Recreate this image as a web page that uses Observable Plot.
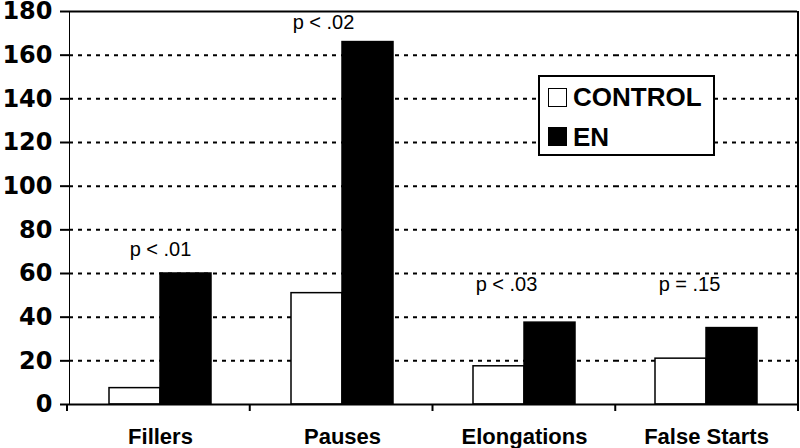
<!DOCTYPE html>
<html><head><meta charset="utf-8">
<script src="https://cdn.jsdelivr.net/npm/d3@7"></script>
<script src="https://cdn.jsdelivr.net/npm/@observablehq/plot@0.6"></script>
<style>
body{margin:0;background:#fff;}
#wrap{position:relative;width:800px;height:448px;overflow:hidden;}
[aria-label^="y-axis"] text{font:bold 24px "DejaVu Sans";}
[aria-label^="fx-axis"] text{font:bold 22px "Liberation Sans", Arial, sans-serif;}
[aria-label^="y-axis"] line,[aria-label^="y-axis"] path{stroke:#000;stroke-width:2;}
.legend{position:absolute;left:538px;top:75px;width:177px;height:81px;box-sizing:border-box;border:2px solid #000;background:#fff;font:bold 26px "Liberation Sans", Arial, sans-serif;color:#000;}
.legend .sw{position:absolute;left:8px;width:19px;height:19px;box-sizing:border-box;border:1.5px solid #000;}
.legend .lb{position:absolute;left:33px;line-height:26px;white-space:nowrap;}
</style>
</head><body>
<div id="wrap"></div>
<script>
const categories = ["Fillers", "Pauses", "Elongations", "False Starts"];
const series = ["CONTROL", "EN"];
const controlValues = [7.5, 51, 17.5, 21];
const enValues = [60, 166, 37.5, 35];
const pLabels = ["p < .01", "p < .02", "p < .03", "p = .15"];
const pLabelValues = [71, 175, 55, 55];
const yTicks = [0, 20, 40, 60, 80, 100, 120, 140, 160, 180];

const rows = categories.flatMap((c, i) => [
  {category: c, group: series[0], value: controlValues[i]},
  {category: c, group: series[1], value: enValues[i]}
]);
const labelRows = categories.map((c, i) => ({category: c, label: pLabels[i], value: pLabelValues[i]}));
const labelDx = [0, -19, -18, -17];

const plot = Plot.plot({
  width: 800, height: 448,
  marginLeft: 67, marginRight: 2, marginTop: 11, marginBottom: 44,
  style: {background: "white", color: "black", fontFamily: "'Liberation Sans', Arial, sans-serif", overflow: "visible"},
  fx: {domain: categories, padding: 0, axis: "bottom", tickSize: 0, tickPadding: 24, label: null},
  x: {domain: series, paddingInner: 0, paddingOuter: 0.76, axis: null},
  y: {domain: [0, 180], ticks: yTicks, tickSize: 9, tickPadding: 8, line: true, label: null},
  color: {domain: series, range: ["white", "black"]},
  marks: [
    Plot.ruleY(yTicks.filter(t => t > 0 && t < 180), {stroke: "black", strokeWidth: 2, strokeDasharray: "4,5"}),
    Plot.ruleY([180], {stroke: "black", strokeWidth: 2}),
    Plot.barY(rows, {fx: "category", x: "group", y: "value", fill: "group", stroke: "black", strokeWidth: 1.5}),
    Plot.ruleY([0], {stroke: "black", strokeWidth: 2}),
    ...labelRows.map((r, i) => Plot.text([r], {fx: "category", y: "value", text: "label", dx: labelDx[i], fontSize: 20, fill: "black", ariaLabel: "p-label"}))
  ]
});

const svg = d3.select(plot);
svg.selectAll('[aria-label="p-label"] text').each(function() {
  const t = d3.select(this);
  const s = t.text();
  t.text(null);
  t.append("tspan").attr("font-style", "italic").style("font-style", "italic").text(s[0]);
  t.append("tspan").text(s.slice(1));
});

// frame pieces at the facet band edges
const fxs = plot.scale("fx");
const ys = plot.scale("y");
const band = d3.scaleBand().domain(fxs.domain).range(fxs.range).paddingInner(0).paddingOuter(0);
const y0 = ys.range[0], y1 = ys.range[1];
const r1 = fxs.range[1];
const g = svg.append("g").attr("stroke", "black").attr("stroke-width", 2);
g.append("line").attr("x1", r1).attr("x2", r1).attr("y1", y1).attr("y2", y0 + 3);
fxs.domain.forEach(c => {
  const x = band(c);
  g.append("line").attr("x1", x).attr("x2", x).attr("y1", y0).attr("y2", y0 + 7);
});
g.append("line").attr("x1", r1).attr("x2", r1).attr("y1", y0).attr("y2", y0 + 7);

const wrap = document.getElementById("wrap");
wrap.appendChild(plot);

const legend = document.createElement("div");
legend.className = "legend";
legend.innerHTML = `
  <div class="sw" style="top:11px;background:#fff"></div>
  <div class="lb" style="top:7px">${series[0]}</div>
  <div class="sw" style="top:50px;background:#000"></div>
  <div class="lb" style="top:47px">${series[1]}</div>`;
wrap.appendChild(legend);
</script>
</body></html>
